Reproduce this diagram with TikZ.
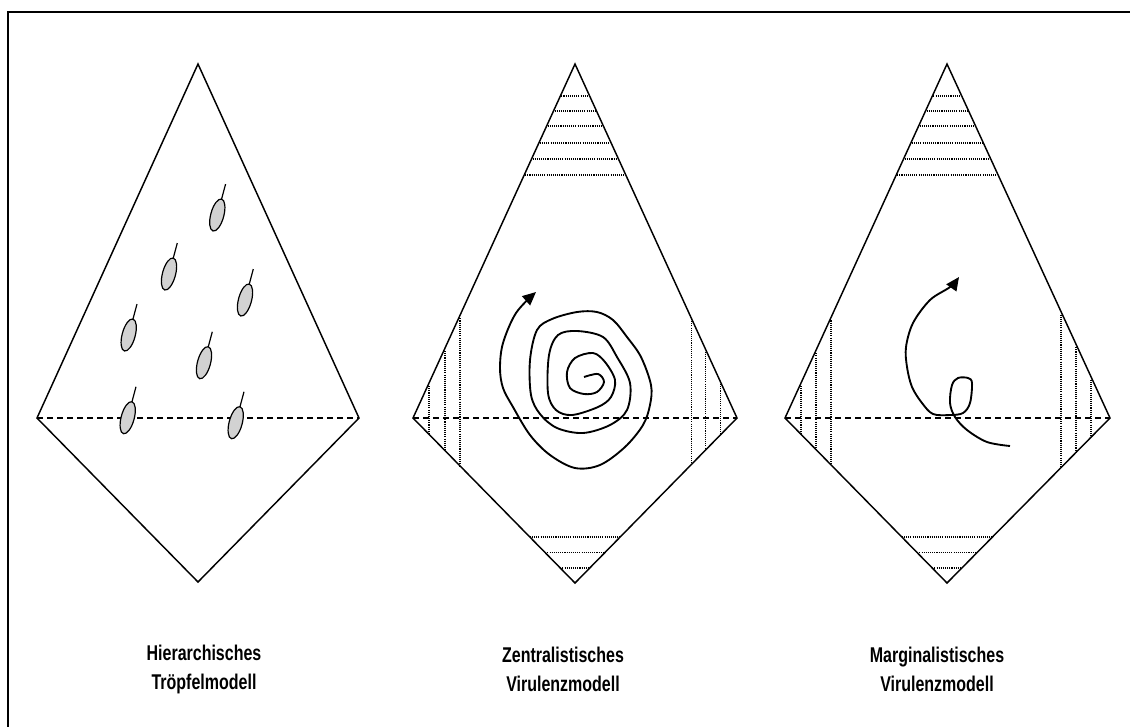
\documentclass[tikz,border=0pt]{standalone}
\usepackage{fontspec}
\setmainfont{Liberation Sans}
\usetikzlibrary{calc,arrows.meta}
\begin{document}
\begin{tikzpicture}[x=0.75pt,y=-0.75pt,
  rim/.style={line width=1.1pt, line join=miter},
  midline/.style={line width=0.9pt, dash pattern=on 4.5pt off 3pt},
  hatch/.style={line width=0.9pt, dash pattern=on 0.8pt off 0.8pt},
  drop/.style={line width=0.9pt, fill=gray!35},
  curl/.style={line width=1.4pt, line join=round, -{Triangle[length=10pt,width=9pt]}},
  lbl/.style={font=\bfseries\fontsize{16}{21.75}\selectfont, align=center, xscale=0.75}]
\useasboundingbox (0,0) rectangle (1130,726);
\draw[line width=1.5pt] (8,12) rectangle (1140,740);

\coordinate (A1) at (198,64);  \coordinate (L1) at (37,418);  \coordinate (R1) at (359,418);  \coordinate (B1) at (198,582);
\coordinate (A2) at (575,64);  \coordinate (L2) at (413,418); \coordinate (R2) at (737,418);  \coordinate (B2) at (575,583);
\coordinate (A3) at (947,64);  \coordinate (L3) at (785,418); \coordinate (R3) at (1110,418); \coordinate (B3) at (947,583);

% hatching
\foreach \i in {2,3} {
  \foreach \yy in {96,111,126,143,159,175} {
    \pgfmathsetmacro\t{(\yy-64)/354}
    \draw[hatch] ($(A\i)!\t!(L\i)+(1,0)$) -- ($(A\i)!\t!(R\i)-(1,0)$);
  }
  \foreach \yy in {537,552.7,568} {
    \pgfmathsetmacro\t{(583-\yy)/165}
    \draw[hatch] ($(B\i)!\t!(L\i)$) -- ($(B\i)!\t!(R\i)$);
  }
}
\foreach \i/\dl/\dr in {2/{16,32,47}/{17,32,46}, 3/{16,31,46}/{19,34,49}} {
  \foreach \d in \dl {
    \pgfmathsetmacro\t{\d/162}
    \draw[hatch] ($(L\i)!\t!(A\i)+(0,3)$) -- ($(L\i)!\t!(B\i)$);
  }
  \foreach \d in \dr {
    \pgfmathsetmacro\t{\d/163}
    \draw[hatch] ($(R\i)!\t!(A\i)+(0,3)$) -- ($(R\i)!\t!(B\i)$);
  }
}

% diamonds
\foreach \i in {1,2,3} {
  \draw[midline] (L\i) -- (R\i);
  \draw[rim] (A\i) -- (L\i) -- (B\i) -- (R\i) -- cycle;
}

% droplets
\foreach \cx/\cy in {217.3/215, 169/274, 245/300, 128.7/335, 204/362.7, 127.7/417.7, 235.7/422.7} {
  \begin{scope}[rotate around={-15:(\cx,\cy)}]
    \draw[drop] (\cx,\cy) ellipse [x radius=4.9pt, y radius=12.4pt];
    \draw[line width=0.9pt] (\cx,{\cy-16.5}) -- (\cx,{\cy-32});
  \end{scope}
}

% spiral (centralist)
\draw[curl] plot[smooth, tension=0.55] coordinates {
 (584,377) (598,374) (604,382) (597,392) (584,394) (570,388) (567,372) (575,358) (593,353)
 (605,362) (615,380) (611,397) (598,407) (572,415) (556,410) (548,393) (549,355) (558,335)
 (577,331) (603,337) (617,357) (630,383) (627,410) (610,425) (583,433) (557,428) (540,414)
 (531,395) (530,360) (537,330) (552,319) (577,312) (597,312) (613,320) (627,337) (641,357)
 (651,385) (650,405) (643,425) (625,447) (600,465) (575,468) (550,455) (530,435) (513,407)
 (503,388) (500,368) (503,343) (516,313) (536,292)};

% loop (marginalist)
\draw[curl] plot[smooth, tension=0.55] coordinates {
 (1010,446) (987,442) (967,430) (955,417) (950,403) (952,385) (958,378) (968,378) (972,383)
 (970,403) (963,413) (950,415) (933,414) (922,403) (912,387) (907,367) (906,347) (913,323)
 (930,300) (950,287) (959,277)};

% captions
\node[lbl] (t1) at (204,669) {Hierarchisches\\Tröpfelmodell};
\node[lbl] (t2) at (563,669) {Zentralistisches\\Virulenzmodell};
\node[lbl] (t3) at (937,669) {Marginalistisches\\Virulenzmodell};
\end{tikzpicture}
\end{document}
